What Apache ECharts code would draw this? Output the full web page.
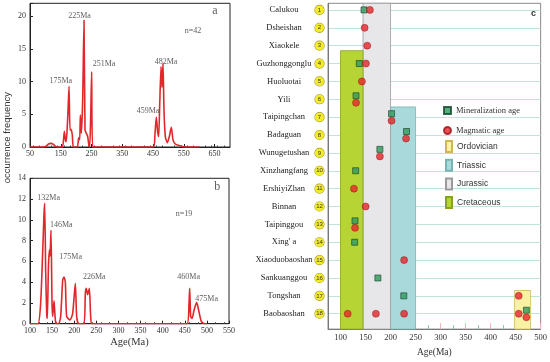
<!DOCTYPE html>
<html><head><meta charset="utf-8">
<script src="https://cdn.jsdelivr.net/npm/echarts@6/dist/echarts.min.js"></script>
<style>html,body{margin:0;padding:0;background:#fff}#c{width:550px;height:362px}</style>
</head><body><div id="c"></div>
<script>
// ---------- Panel a: age spectrum (n=42)
const aAges = [50,95,103,110,118,126,134,150,156,161.6,164.5,167,170.3,173.5,176.8,180,183.3,187.6,190.8,203.8,208.2,211.5,213.6,216.8,221.2,225.5,228.8,233,237.5,240.7,244,247.2,250.4,253.7,300,400,450.8,456.3,460.6,464.9,468.2,471.4,475.8,479,482.3,485.5,489.8,496.3,502.8,509.3,514.8,521.3,532,548.3,570,600];
const aFreq = [0,0,0.15,0.45,0.56,0.4,0.05,0,0,2.4,1.2,0.8,2.3,5.5,9.3,2.6,2.7,1.8,0,0,1.4,1.1,4.9,2.1,7.2,19.4,2.6,2.1,1.6,0.5,0,4.6,11.5,0,0,0,0,2.1,4.6,2.3,1.6,6.2,12.3,9.1,12.8,5.6,1.6,0.65,1.6,3.0,1.1,0.5,0.25,0.05,0,0];
const aNoteText = ['175Ma','225Ma','251Ma','459Ma','482Ma','n=42','a'];
const aNoteAge  = [150,211,290.5,433.5,492,580,651];
const aNoteFreq = [10.1,20.0,12.7,5.5,13.0,17.7,20.8];
const aXTicks = [50,150,250,350,450,550,650];

// ---------- Panel b: age spectrum (n=19)
const bAges = [100,118,124.1,128.6,131.7,133.2,135.4,137.7,139.2,141.5,143.7,145.2,147.5,149.8,151.3,154.3,157.3,160.3,165,169.4,173.9,176.9,179.9,182.9,190.5,196.5,202.5,205.5,210,222.1,225.1,227.4,230.4,234.2,237.2,240.2,300,455,459.6,461.1,463.3,466.4,470.9,476.9,481.4,487.5,495,500];
const bFreq = [0,0,2.0,6.8,10.6,11.6,5.2,1.0,0.5,5.2,7.1,6.5,9.0,2.0,0.7,2.2,0.35,0,0,0.7,4.2,4.5,4.0,0.7,0.35,1.0,3.9,0.7,0,0,2.9,3.4,2.8,3.4,0.7,0,0,0,2.0,3.4,0.7,0.5,1.3,2.05,1.3,0.2,0,0];
const bNoteText = ['132Ma','146Ma','175Ma','226Ma','460Ma','475Ma','n=19','b'];
const bNoteAge  = [142.3,170.8,192,245.4,458.8,499.5,448.2,523.5];
const bNoteFreq = [12.1,9.5,6.4,4.5,4.5,2.4,10.6,13.2];
const bXTicks = [100,150,200,250,300,350,400,450,500,550];

// ---------- Panel c: deposits
const rowNames = ['Calukou','Dsheishan','Xiaokele','Guzhonggonglu','Huoluotai','Yili','Taipingchan','Badaguan','Wunugetushan','Xinzhangfang','ErshiyiZhan','Binnan','Taipinggou',"Xing' a",'Xiaoduobaoshan','Sankuanggou','Tongshan','Baobaoshan'];
const minAge = [147,137.5,131,202,232,178.7,130.3,129,128.3,174.7,226.5,471.5];
const minRow = [1,4,6,7,8,9,10,13,14,16,17,18];
const magAge = [158.8,148.2,153.4,150.8,142.8,131,202,231,178.7,126.9,150.2,129,227.1,456.2,114.3,170.7,227.1,456.2,471.5];
const magRow = [1,2,3,4,5,6,7,8,9,11,12,13,15,17,18,18,18,18,18];
const periodNames = ['Ordovician','Triassic','Jurassic','Cretaceous'];
const periodStart = [448,200,145,100];
const periodEnd   = [480,250,200,145];
const periodTop   = [16.7,6.43,0.63,3.28];
const cXTicks = [100,150,200,250,300,350,400,450,500];
const cXMinor = [125,175,225,275,325,375,425,475];

const cMin = 0.63, cMax = 18.86;
const serif = "'Liberation Serif','Times New Roman',serif";
const sans = "'Liberation Sans',Arial,sans-serif";
const periodFill = ['#f9f2a2','#a9d9da','#e7e7e9','#b7d435'];
const periodBorder = ['#cdb65a','#78b4b6','#9a9a9c','#86a326'];

const rowIdx = rowNames.map((_, i) => i + 1);
function paired(age, row, otherAge, otherRow) {
  for (let i = 0; i < otherAge.length; i++) {
    if (otherRow[i] === row && Math.abs(otherAge[i] - age) < 4) return true;
  }
  return false;
}
const minData = minAge.map((a, i) => ({
  value: [a, minRow[i]],
  symbolOffset: [0, paired(a, minRow[i], magAge, magRow) ? -3.5 : 0]
}));
const magData = magAge.map((a, i) => ({
  value: [a, magRow[i]],
  symbolOffset: [0, paired(a, magRow[i], minAge, minRow) ? 3.5 : 0]
}));

const chart = echarts.init(document.getElementById('c'), null, {renderer: 'canvas'});

function freqAxisX(grid, min, max, ticks, name) {
  return {
    gridIndex: grid, type: 'value', min: min, max: max,
    axisLine: {show: true, onZero: false, lineStyle: {color: '#222'}},
    axisTick: {show: true, inside: true, length: 3, customValues: ticks, lineStyle: {color: '#222'}},
    minorTick: {show: true, splitNumber: 5, length: 1.5, lineStyle: {color: '#444'}},
    axisLabel: {customValues: ticks, fontFamily: serif, fontSize: 8, color: '#333', margin: 3},
    splitLine: {show: false},
    name: name, nameLocation: 'middle', nameGap: 13,
    nameTextStyle: {fontFamily: serif, fontSize: 10.5, color: '#333'}
  };
}
function freqAxisY(grid, max, interval) {
  return {
    gridIndex: grid, type: 'value', min: 0, max: max, interval: interval,
    axisLine: {show: true, lineStyle: {color: '#222'}},
    axisTick: {show: true, inside: true, length: 3, lineStyle: {color: '#222'}},
    axisLabel: {fontFamily: serif, fontSize: 8, color: '#333', margin: 4,
      formatter: v => (v % interval !== 0) ? '' : v},
    splitLine: {show: false}
  };
}
function noteData(ages, freqs, texts) {
  return ages.map((a, i) => ({
    value: [a, freqs[i]],
    label: {formatter: texts[i], fontSize: texts[i].length === 1 ? 12 : 8}
  }));
}

const option = {
  animation: false,
  grid: [
    {left: 30, top: 3.3, width: 200, height: 143.7, show: true, borderColor: '#222', borderWidth: 1},
    {left: 30, top: 178.3, width: 199, height: 145.4, show: true, borderColor: '#222', borderWidth: 1},
    {left: 328, top: 3.3, width: 213.3, height: 330, show: true, borderColor: '#8a8a8a', borderWidth: 1}
  ],
  xAxis: [
    freqAxisX(0, 50, 700, aXTicks, ''),
    freqAxisX(1, 100, 550, bXTicks, 'Age(Ma)'),
    {
      gridIndex: 2, type: 'value', min: 75, max: 500, position: 'bottom',
      axisLine: {show: true, lineStyle: {color: '#777'}},
      axisTick: {show: true, inside: true, length: 6, customValues: cXTicks, lineStyle: {color: '#f2b3bb'}},
      axisLabel: {customValues: cXTicks, fontFamily: serif, fontSize: 8.5, color: '#333', margin: 4},
      splitLine: {show: false},
      name: 'Age(Ma)', nameLocation: 'middle', nameGap: 14,
      nameTextStyle: {fontFamily: serif, fontSize: 9.5, color: '#333'}
    },
    {
      gridIndex: 2, type: 'value', min: 75, max: 500, position: 'bottom',
      axisLine: {show: false},
      axisTick: {show: true, inside: true, length: 4, customValues: cXMinor, lineStyle: {color: '#86c4bc'}},
      axisLabel: {show: false},
      splitLine: {show: false}
    }
  ],
  yAxis: [
    freqAxisY(0, 22, 5),
    freqAxisY(1, 14, 2),
    {
      gridIndex: 2, type: 'value', inverse: true, min: cMin, max: cMax,
      axisLine: {show: true, lineStyle: {color: '#777'}},
      axisTick: {show: false, customValues: rowIdx},
      axisLabel: {
        customValues: rowIdx, margin: 1,
        formatter: v => '{n|' + rowNames[v - 1] + '}{c|' + v + '}{s|}',
        rich: {
          n: {fontFamily: serif, fontSize: 8.5, color: '#222', width: 62, align: 'center'},
          c: {fontFamily: sans, fontSize: 6, color: '#333', width: 9, height: 9, lineHeight: 9,
              align: 'center', backgroundColor: '#f3ec2a', borderColor: '#a89a1a', borderWidth: 0.6, borderRadius: 5},
          s: {width: 3}
        }
      },
      splitLine: {show: true, lineStyle: {color: '#bfe3dd', width: 1}}
    }
  ],
  legend: [
    {
      data: [{name: 'Mineralization age', icon: 'rect'}, {name: 'Magmatic age', icon: 'circle'}],
      orient: 'vertical', left: 438, top: 101, itemWidth: 7, itemHeight: 7, itemGap: 11,
      selectedMode: false, textStyle: {fontFamily: serif, fontSize: 8.5, color: '#333'}
    },
    {
      data: periodNames.map(n => ({name: n, icon: 'rect'})),
      orient: 'vertical', left: 440, top: 135, itemWidth: 6, itemHeight: 11, itemGap: 5.7,
      selectedMode: false, textStyle: {fontFamily: sans, fontSize: 8.5, color: '#333'}
    }
  ],
  graphic: [
    {type: 'text', left: 2, top: 92, rotation: Math.PI / 2, originX: 0, originY: 0,
     style: {text: 'occurrence frequency', font: "9.5px 'Liberation Sans', Arial, sans-serif", fill: '#333'}},
    {type: 'text', left: 531, top: 9, style: {text: 'c', font: "bold 9px 'Liberation Sans', Arial, sans-serif", fill: '#333'}}
  ],
  series: [
    {type: 'line', xAxisIndex: 0, yAxisIndex: 0, showSymbol: false, smooth: 0.2,
     data: aAges.map((a, i) => [a, aFreq[i]]),
     lineStyle: {color: '#e2272c', width: 1.6}, itemStyle: {color: '#e2272c'}, z: 3},
    {type: 'line', xAxisIndex: 1, yAxisIndex: 1, showSymbol: false, smooth: 0.2,
     data: bAges.map((a, i) => [a, bFreq[i]]),
     lineStyle: {color: '#e2272c', width: 1.6}, itemStyle: {color: '#e2272c'}, z: 3},
    {type: 'scatter', xAxisIndex: 0, yAxisIndex: 0, symbolSize: 0, silent: true,
     data: noteData(aNoteAge, aNoteFreq, aNoteText),
     label: {show: true, position: 'inside', fontFamily: serif, color: '#333'}},
    {type: 'scatter', xAxisIndex: 1, yAxisIndex: 1, symbolSize: 0, silent: true,
     data: noteData(bNoteAge, bNoteFreq, bNoteText),
     label: {show: true, position: 'inside', fontFamily: serif, color: '#333'}},
    ...periodNames.map((n, i) => ({
      type: 'custom', name: n, xAxisIndex: 2, yAxisIndex: 2, z: 1,
      itemStyle: {color: periodFill[i], borderColor: periodBorder[i], borderWidth: 0.8},
      encode: {x: [0, 1], y: 2},
      data: [[periodStart[i], periodEnd[i], periodTop[i]]],
      renderItem: function (params, api) {
        const p0 = api.coord([api.value(0), api.value(2)]);
        const p1 = api.coord([api.value(1), cMax]);
        return {type: 'rect', shape: {x: p0[0], y: p0[1], width: p1[0] - p0[0], height: p1[1] - p0[1]},
                style: api.style()};
      }
    })),
    {type: 'scatter', name: 'Mineralization age', xAxisIndex: 2, yAxisIndex: 2, z: 4,
     symbol: 'rect', symbolSize: 6, data: minData,
     itemStyle: {color: '#2f9a5c', borderColor: '#17402a', borderWidth: 0.8}},
    {type: 'scatter', name: 'Magmatic age', xAxisIndex: 2, yAxisIndex: 2, z: 5,
     symbol: 'circle', symbolSize: 7, data: magData,
     itemStyle: {color: '#e5262c', borderColor: '#9a1015', borderWidth: 0.6}}
  ]
};
chart.setOption(option);
</script>
</body></html>
